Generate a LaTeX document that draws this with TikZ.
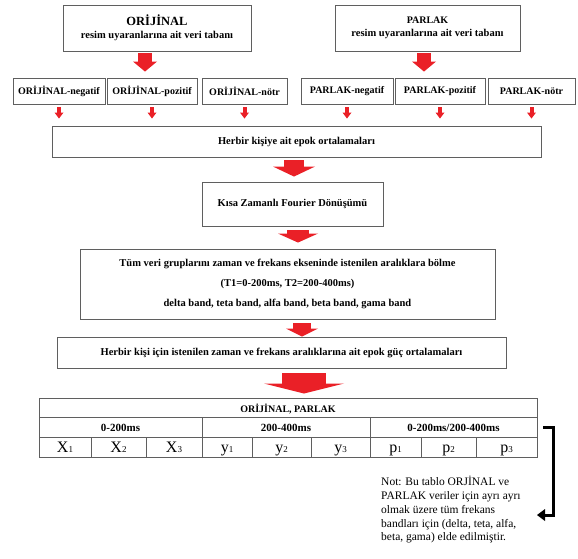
\documentclass[tikz,border=0pt]{standalone}
\usepackage{fontspec}
\setmainfont{Liberation Serif}
\usetikzlibrary{arrows.meta,shadows}

\definecolor{arrowred}{RGB}{234,32,39}
\definecolor{rimgray}{RGB}{95,95,95}

% value cell: big letter, small index
\newcommand{\tabval}[2]{{\fontsize{16}{16}\selectfont #1}{\fontsize{9}{9}\selectfont #2}}

\begin{document}
\begin{tikzpicture}[x=1pt, y=-1pt,
    box/.style={draw=rimgray, line width=0.9pt, fill=white, inner sep=1pt, align=center,
        drop shadow={shadow xshift=1.2pt, shadow yshift=-1.2pt, fill=black!45, opacity=0.6},
        font=\bfseries\fontsize{10.5}{13}\selectfont},
    subbox/.style={box, minimum height=26pt, font=\bfseries\fontsize{10}{12}\selectfont},
    cell/.style={draw=rimgray, line width=0.7pt, inner sep=0pt, minimum height=20pt,
        text height=10pt, text depth=0.5pt, font=\bfseries\fontsize{11}{12}\selectfont},
    blockarrow/.style n args={3}{draw=arrowred, line width=#1,
        -{Triangle[length=#2, width=#3, line width=0pt]}}
  ]
    \useasboundingbox (0,0) rectangle (578,558);

    % Data bases (top)
    \node[box, minimum width=188pt, minimum height=46pt] (orj) at (157,28)
        {{\fontsize{12.5}{14}\selectfont ORİJİNAL}\\ resim uyaranlarına ait veri tabanı};
    \node[box, minimum width=185pt, minimum height=46pt] (par) at (427.5,28)
        {{\fontsize{10}{12}\selectfont PARLAK}\\ resim uyaranlarına ait veri tabanı};

    % Sub groups
    \foreach \nm/\cx/\w/\lbl in {negO/59/92/ORİJİNAL-negatif, pozO/152/90/ORİJİNAL-pozitif,
        notO/244.5/85/ORİJİNAL-nötr, negP/347/92/PARLAK-negatif,
        pozP/440/90/PARLAK-pozitif, notP/531.5/87/PARLAK-nötr}
      \node[subbox, minimum width=\w] (\nm) at (\cx,91) {\lbl};

    % Processing steps
    \node[box, minimum width=489pt, minimum height=31pt] (herb) at (296.5,141.5)
        {Herbir kişiye ait epok ortalamaları};
    \node[box, minimum width=181pt, minimum height=44pt] (kisa) at (292.5,204)
        {Kısa Zamanlı Fourier Dönüşümü};
    \node[box, minimum width=415pt, minimum height=70pt, font=\bfseries\fontsize{10.5}{20}\selectfont] (tum) at (287.5,284)
        {Tüm veri gruplarını zaman ve frekans ekseninde istenilen aralıklara bölme\\
         (T1=0-200ms, T2=200-400ms)\\
         delta band, teta band, alfa band, beta band, gama band};
    \node[box, minimum width=449pt, minimum height=31pt] (guc) at (281.5,352.5)
        {Herbir kişi için istenilen zaman ve frekans aralıklarına ait epok güç ortalamaları};

    % Result table
    \node[box, minimum width=498pt, minimum height=59pt] (tab) at (288,427.5) {};
    \node[cell, minimum width=498pt, minimum height=19pt, font=\bfseries\fontsize{10}{12}\selectfont] (head) at (288,407.5) {ORİJİNAL, PARLAK};
    \node[cell, minimum width=163pt] (grp1) at (120.5,427) {0-200ms};
    \node[cell, minimum width=168pt] (grp2) at (286,427) {200-400ms};
    \node[cell, minimum width=167pt] (grp3) at (453.5,427) {0-200ms/200-400ms};
    \foreach \l/\r/\v/\d [count=\i] in {39/91/X/1, 91/146/X/2, 146/202/X/3,
        202/252/y/1, 252/311/y/2, 311/370/y/3, 370/421/p/1, 421/476/p/2, 476/537/p/3}
      \node[cell, minimum width={(\r-\l)*1pt}, text height=12pt, text depth=1pt, font=\fontsize{16}{16}\selectfont]
        (v\i) at ({(\l+\r)/2},447) {\tabval{\v}{\d}};

    % Note
    \node[anchor=north west, align=left, inner sep=0pt, font=\fontsize{11.5}{13.8}\selectfont] (note) at (381,476)
        {Not: Bu tablo ORJİNAL ve\\ PARLAK veriler için ayrı ayrı\\ olmak üzere tüm frekans\\
         bandları için (delta, teta, alfa,\\ beta, gama) elde edilmiştir.};
    \coordinate (noteend) at (537,515);

    % Red arrows
    \draw[blockarrow={14pt}{10pt}{24pt}, shorten <=2pt, shorten >=6pt]
        ([xshift=-12pt]orj.south) -- ([xshift=-12pt]orj.south |- negO.north);
    \draw[blockarrow={14pt}{10pt}{24pt}, shorten <=2pt, shorten >=6pt]
        ([xshift=-3.5pt]par.south) -- ([xshift=-3.5pt]par.south |- negP.north);
    \foreach \nm in {negO,pozO,notO,negP,pozP,notP}
      \draw[blockarrow={4pt}{6pt}{9pt}, shorten <=3pt, shorten >=7pt]
          (\nm.south) -- (\nm.south |- herb.north);
    \draw[blockarrow={20pt}{10pt}{42pt}, shorten <=3pt, shorten >=5pt]
        ([xshift=1.5pt]kisa.north |- herb.south) -- ([xshift=1.5pt]kisa.north);
    \draw[blockarrow={22pt}{9pt}{40pt}, shorten <=4pt, shorten >=6pt]
        ([xshift=5.5pt]kisa.south) -- ([xshift=5.5pt]kisa.south |- tum.north);
    \draw[blockarrow={18pt}{8pt}{32pt}, shorten <=4pt, shorten >=0pt]
        ([xshift=14.5pt]tum.south) -- ([xshift=14.5pt]tum.south |- guc.north);
    \draw[blockarrow={44pt}{10pt}{80pt}, shorten <=5pt, shorten >=4pt]
        ([xshift=22.5pt]guc.south) -- ([xshift=22.5pt]guc.south |- tab.north);

    % Bracket to the note
    \draw[line width=3pt, -{Triangle[length=8pt, width=12pt, line width=0pt]}]
        ([xshift=6pt]grp3.east) -- ++(10,0) |- (noteend);
\end{tikzpicture}
\end{document}
